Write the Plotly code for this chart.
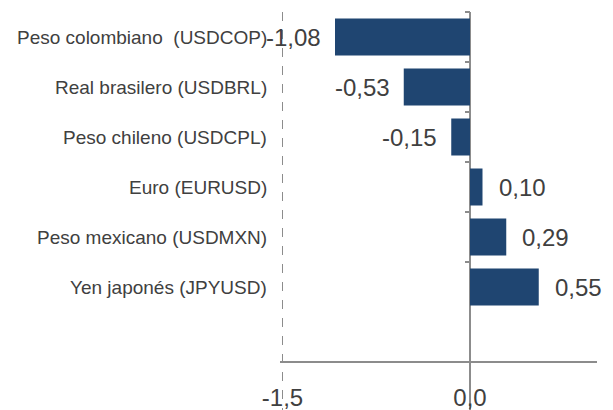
import plotly.graph_objects as go

categories = ["Peso colombiano \u00a0(USDCOP)", "Real brasilero (USDBRL)", "Peso chileno (USDCPL)",
              "Euro (EURUSD)", "Peso mexicano (USDMXN)", "Yen japonés (JPYUSD)"]
values = [-1.08, -0.53, -0.15, 0.10, 0.29, 0.55]
x_ticks = [-1.5, 0.0]

X_MIN, X_MAX = -1.52, 1.016
Y_TOP, Y_BOT = -0.5, 7.46
AXIS_AT = 6.5

BAR = "#1F4571"
TXT = "#404040"
LINE = "#8C8C8C"
FONT = "Liberation Sans, Arial, sans-serif"

fig = go.Figure()
fig.add_trace(go.Bar(
    x=values, y=categories, orientation="h",
    marker=dict(color=BAR, line=dict(width=0)),
    width=0.74, hoverinfo="skip",
))

annotations = []
for c, v in zip(categories, values):
    annotations.append(dict(
        x=v, y=c, xref="x", yref="y",
        text=f"{v:.2f}".replace(".", ","),
        showarrow=False,
        xanchor="right" if v < 0 else "left",
        xshift=-12 if v < 0 else 14,
        font=dict(size=24, color=TXT, family=FONT),
    ))
    annotations.append(dict(
        x=0, y=c, xref="paper", yref="y",
        text=c, showarrow=False, xanchor="right", xshift=-11,
        font=dict(size=19, color=TXT, family=FONT),
    ))

fig.update_layout(
    width=605, height=402,
    margin=dict(l=272, r=16, t=4, b=0, autoexpand=False),
    paper_bgcolor="white", plot_bgcolor="white",
    separators=",.",
    showlegend=False,
    font=dict(family=FONT, color=TXT),
    annotations=annotations,
    xaxis=dict(
        range=[X_MIN, X_MAX],
        tickvals=x_ticks,
        ticktext=[f"{t:.1f}".replace(".", ",") for t in x_ticks],
        tickfont=dict(size=24, color=TXT),
        showgrid=True, gridcolor=LINE, griddash="dash", gridwidth=1.2,
        zeroline=True, zerolinecolor=LINE, zerolinewidth=1.5,
        showline=True, linecolor=LINE, linewidth=1.5,
        anchor="free",
        position=(Y_BOT - AXIS_AT) / (Y_BOT - Y_TOP),
        ticks="", ticklabelstandoff=14,
        automargin=False,
    ),
    yaxis=dict(
        type="category",
        range=[Y_BOT, Y_TOP],
        anchor="free",
        position=(0 - X_MIN) / (X_MAX - X_MIN),
        showline=False, showgrid=False, zeroline=False,
        ticks="outside", ticklen=5, tickcolor=LINE, tickwidth=1.5,
        tickson="boundaries",
        showticklabels=False,
        automargin=False,
    ),
)

fig.write_html("out.html")
